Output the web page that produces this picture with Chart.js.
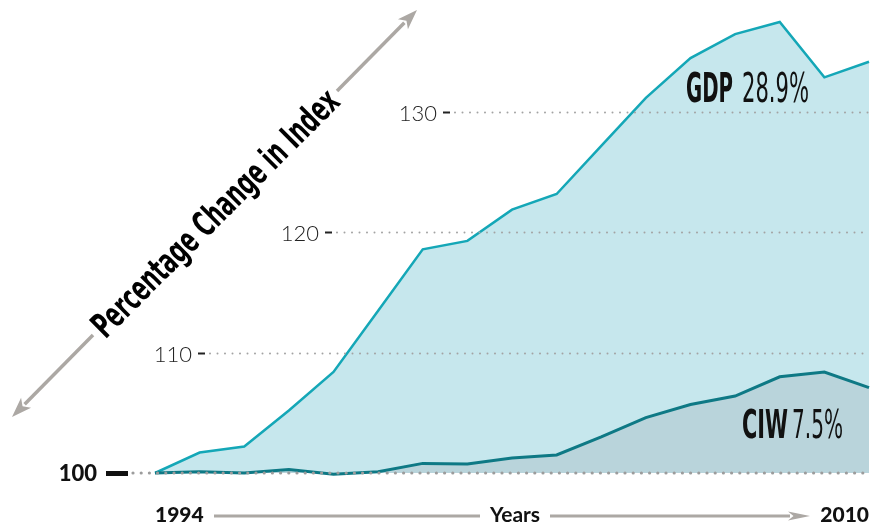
<!DOCTYPE html>
<html>
<head>
<meta charset="utf-8">
<script src="https://cdn.jsdelivr.net/npm/chart.js@4.4.0/dist/chart.umd.min.js"></script>
<style>
  html, body { margin: 0; padding: 0; background: #fff; }
</style>
</head>
<body>
<canvas id="chart" width="879" height="527"></canvas>
<script>
// data
var years = ['1994', '1995', '1996', '1997', '1998', '1999', '2000', '2001', '2002',
             '2003', '2004', '2005', '2006', '2007', '2008', '2009', '2010'];
var gdpIndex = [100, 101.7, 102.2, 105.2, 108.4, 113.5, 118.6, 119.3, 121.9,
                123.2, 127.2, 131.2, 134.5, 136.5, 137.5, 132.9, 134.2];
var ciwIndex = [100, 100.1, 100, 100.3, 99.9, 100.1, 100.8, 100.75, 101.25,
                101.5, 103.0, 104.6, 105.7, 106.4, 108.0, 108.4, 107.1];
var gridValues = [110, 120, 130];
var baseValue = 100;
var gdpLabel = ['GDP', '28.9%'];
var ciwLabel = ['CIW', '7.5%'];
var yTitle = 'Percentage Change in Index';
var xTitle = 'Years';

var GEO = 'Lato, "Open Sans", sans-serif';
var NARROW = '"DejaVu Sans Condensed", "DejaVu Sans", sans-serif';
var ARROW_GREY = '#aca8a4';

function dots(ctx, x1, x2, y, size, gap, color) {
    ctx.save();
    ctx.strokeStyle = color;
    ctx.lineWidth = size;
    ctx.lineCap = 'round';
    ctx.setLineDash([0, gap]);
    ctx.beginPath();
    ctx.moveTo(x1, y);
    ctx.lineTo(x2, y);
    ctx.stroke();
    ctx.restore();
}

function arrow(ctx, x1, y1, x2, y2, width, headLen, headHalf) {
    var ang = Math.atan2(y2 - y1, x2 - x1);
    var bx = x2 - headLen * Math.cos(ang), by = y2 - headLen * Math.sin(ang);
    ctx.save();
    ctx.strokeStyle = ARROW_GREY;
    ctx.fillStyle = ARROW_GREY;
    ctx.lineWidth = width;
    ctx.beginPath();
    ctx.moveTo(x1, y1);
    ctx.lineTo(bx + 2 * Math.cos(ang), by + 2 * Math.sin(ang));
    ctx.stroke();
    ctx.beginPath();
    ctx.moveTo(x2, y2);
    ctx.lineTo(bx - headHalf * Math.sin(ang), by + headHalf * Math.cos(ang));
    ctx.lineTo(bx + headLen * 0.25 * Math.cos(ang), by + headLen * 0.25 * Math.sin(ang));
    ctx.lineTo(bx + headHalf * Math.sin(ang), by - headHalf * Math.cos(ang));
    ctx.closePath();
    ctx.fill();
    ctx.restore();
}

// bold word + regular part, squeezed so each hits its measured width
function seriesLabel(ctx, parts, x, baseline, size, boldWidth, restStart, restWidth) {
    ctx.save();
    ctx.fillStyle = '#111';
    ctx.textBaseline = 'alphabetic';
    ctx.textAlign = 'left';
    ctx.font = 'bold ' + size + 'px ' + NARROW;
    var w = ctx.measureText(parts[0]).width;
    ctx.save();
    ctx.translate(x, baseline);
    ctx.scale(boldWidth / w, 1);
    ctx.fillText(parts[0], 0, 0);
    ctx.restore();
    ctx.font = size + 'px ' + NARROW;
    var w2 = ctx.measureText(parts[1]).width;
    ctx.translate(restStart, baseline);
    ctx.scale(restWidth / w2, 1);
    ctx.fillText(parts[1], 0, 0);
    ctx.restore();
}

var decor = {
    id: 'decor',
    afterDatasetsDraw: function (chart) {
        var ctx = chart.ctx, area = chart.chartArea, y = chart.scales.y;
        var labelRight = { 110: 192, 120: 319, 130: 437 };

        // grid lines with their labels, walking up the diagonal
        gridValues.forEach(function (v) {
            var py = Math.round(y.getPixelForValue(v)) + 0.5;
            var r = labelRight[v];
            ctx.save();
            ctx.fillStyle = '#222';
            ctx.font = '300 22px ' + GEO;
            ctx.textAlign = 'right';
            ctx.textBaseline = 'middle';
            ctx.fillText(String(v), r, py + 1);
            ctx.fillRect(r + 6, py - 1, 7, 2);
            ctx.restore();
            dots(ctx, r + 18, area.right, py, 2, 7.5, '#a3a3a3');
        });

        // base line at 100
        var by = Math.round(y.getPixelForValue(baseValue));
        dots(ctx, 133, area.right, by, 3.2, 8.2, '#9c9c9c');
        ctx.save();
        ctx.fillStyle = '#111';
        ctx.fillRect(106, by - 2, 22, 5);
        ctx.font = '900 22px ' + GEO;
        ctx.textAlign = 'right';
        ctx.textBaseline = 'middle';
        ctx.fillText(String(baseValue), 97, by + 1);
        ctx.restore();

        seriesLabel(ctx, gdpLabel, 686, 102, 40, 47, 742, 67);
        seriesLabel(ctx, ciwLabel, 742, 438, 39, 46, 792, 51);
    },
    afterDraw: function (chart) {
        var ctx = chart.ctx, area = chart.chartArea;

        // x axis: first year, arrow, title, arrow, last year
        var ay = 516;
        ctx.save();
        ctx.fillStyle = '#111';
        ctx.font = '900 21px ' + GEO;
        ctx.textBaseline = 'alphabetic';
        ctx.textAlign = 'left';
        ctx.fillText(years[0], area.left, 522);
        ctx.textAlign = 'right';
        ctx.fillText(years[years.length - 1], area.right, 522);
        ctx.textAlign = 'center';
        ctx.font = 'bold 21px ' + GEO;
        ctx.fillText(xTitle, 515, 522);
        ctx.restore();
        ctx.save();
        ctx.strokeStyle = ARROW_GREY;
        ctx.lineWidth = 3;
        ctx.beginPath();
        ctx.moveTo(214, ay);
        ctx.lineTo(480, ay);
        ctx.stroke();
        ctx.restore();
        arrow(ctx, 550, ay, 810, ay, 3, 22, 4.5);

        // diagonal y title with its two arrows
        arrow(ctx, 93, 335, 12, 417, 3.5, 20, 7);
        arrow(ctx, 337, 91, 417, 10, 3.5, 20, 7);
        ctx.save();
        ctx.translate(215, 213);
        ctx.rotate(-Math.PI / 4);
        ctx.font = 'bold 35px ' + NARROW;
        var w = ctx.measureText(yTitle).width;
        ctx.scale(334 / w, 1);
        ctx.fillStyle = '#000';
        ctx.textAlign = 'center';
        ctx.textBaseline = 'alphabetic';
        ctx.fillText(yTitle, 0, 12);
        ctx.restore();
    }
};

var ctx = document.getElementById('chart').getContext('2d');
var chart = new Chart(ctx, {
    type: 'line',
    data: {
        labels: years,
        datasets: [{
            label: 'CIW',
            data: ciwIndex,
            fill: 'start',
            backgroundColor: '#b9d4db',
            borderColor: '#0e7985',
            borderWidth: 3,
            pointRadius: 0,
            tension: 0,
            clip: false,
            order: 0
        }, {
            label: 'GDP',
            data: gdpIndex,
            fill: 'start',
            backgroundColor: '#c6e7ed',
            borderColor: '#14a7b7',
            borderWidth: 2.5,
            pointRadius: 0,
            tension: 0,
            clip: false,
            order: 1
        }]
    },
    options: {
        responsive: false,
        animation: false,
        layout: { padding: { left: 155, right: 10, top: 10, bottom: 54 } },
        plugins: { legend: { display: false }, tooltip: { enabled: false } },
        scales: {
            x: { display: false, offset: false },
            y: { display: false, min: 100, max: 138.5 }
        }
    },
    plugins: [decor]
});
</script>
</body>
</html>
